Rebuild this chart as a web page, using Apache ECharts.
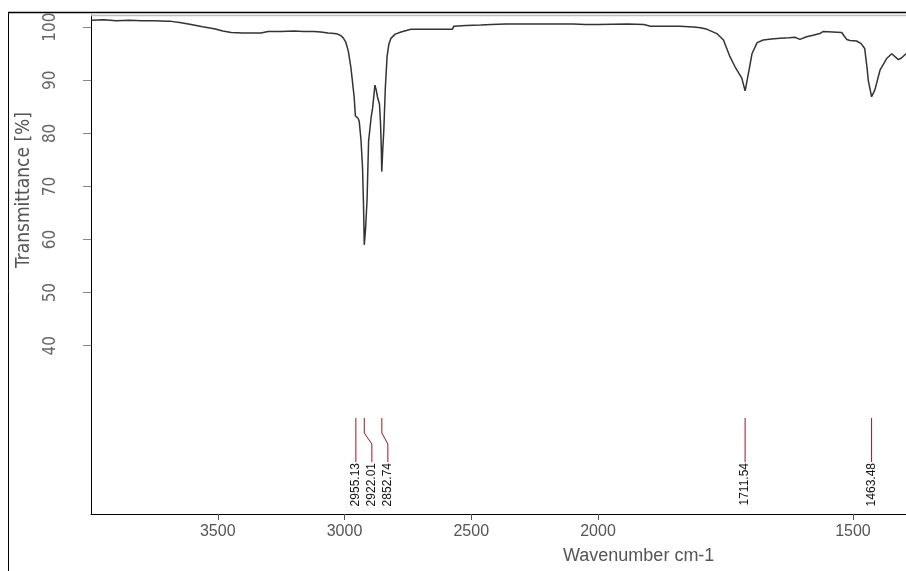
<!DOCTYPE html>
<html>
<head>
<meta charset="utf-8">
<script src="https://cdn.jsdelivr.net/npm/echarts@6/dist/echarts.min.js"></script>
<style>
html,body{margin:0;padding:0;background:#fff;}
#chart{width:906px;height:571px;}
</style>
</head>
<body>
<div id="chart"></div>
<script>
// Spectrum (wavenumber cm-1, transmittance %)
var wavenumbers = [4000,3950,3900,3850,3800,3750,3700,3684,3650,3605,3560,3514,3480,3447,3400,3360,3329,3302,3250,3200,3160,3120,3093,3065,3040,3027,3014,3005,2995,2985,2975,2968,2962,2957,2953,2950,2946,2942,2935,2929,2925,2922,2917,2911,2905,2895,2889,2880,2875,2870,2862,2858,2855,2853,2849,2845,2839,2832,2825,2817,2800,2777,2738,2700,2650,2600,2574,2569,2520,2463,2420,2364,2300,2250,2200,2150,2097,2050,2000,
  1942,1910,1897,1860,1839,1813,1799,1786,1767,1754,1741,1731,1718,1711.5,1705,1698,1688,1676,1660,1643,1625,1614,1604,1591,1578,1565,1558,1540,1522,1517,1512,1506,1503,1493,1484,1477,1472,1470,1463.5,1457,1447,1434,1424,1411,1405,1396];
var transmittance = [101.3,101.4,101.2,101.3,101.2,101.2,101.1,101.1,100.9,100.5,100.1,99.7,99.3,99.0,98.9,98.9,98.9,99.2,99.2,99.3,99.2,99.2,99.1,98.9,98.8,98.7,98.4,98.0,97.2,95.5,92.5,89.5,86.9,83.3,83.0,83.6,82.8,82.3,78.8,73.7,66.5,59.0,62.0,67.5,78.5,83.0,84.8,89.1,88.2,86.9,85.5,82.0,77.5,72.8,77.0,80.5,88.5,94.5,96.8,97.9,98.7,99.1,99.6,99.6,99.6,99.6,99.6,100.2,100.3,100.4,100.5,100.6,100.6,100.6,100.6,100.6,100.6,100.5,100.5,
  100.6,100.5,100.2,100.2,100.2,100.05,99.9,99.6,98.8,97.6,94.4,92.5,90.4,88.0,91.3,95.0,97.1,97.6,97.8,97.9,98.0,98.1,97.7,98.2,98.5,98.8,99.2,99.1,99.0,98.3,97.7,97.5,97.2,97.4,96.9,96.0,92.0,90.0,86.9,88.2,91.9,94.1,95.0,93.9,94.2,95.0];

// Peak annotations
var peaksHigh = [2955.13, 2922.01, 2852.74];
var peaksLow = [1711.54, 1463.48];

// Axes
var xTicksHigh = [3500, 3000, 2500];
var xTicksLow = [2000, 1500];
var yTicks = [40, 50, 60, 70, 80, 90, 100];
var yMin = 8.3, yMax = 102.3;
var xBreak = 2000, xStart = 4000, xEnd = 1396;

var seriesHigh = [], seriesLow = [];
for (var i = 0; i < wavenumbers.length; i++) {
  if (wavenumbers[i] >= xBreak) seriesHigh.push([wavenumbers[i], transmittance[i]]);
  if (wavenumbers[i] <= xBreak) seriesLow.push([wavenumbers[i], transmittance[i]]);
}

var chart = echarts.init(document.getElementById('chart'), null, {renderer: 'canvas'});

function peakSeries(gridIdx, peaks) {
  return {
    type: 'custom',
    xAxisIndex: gridIdx,
    yAxisIndex: gridIdx,
    clip: false,
    silent: true,
    data: peaks.map(function (p) { return [p, yMin]; }),
    renderItem: function (params, api) {
      var idx = params.dataIndex;
      var lx = null, px = null;
      for (var j = 0; j <= idx; j++) {
        px = api.coord([peaks[j], yMin])[0];
        lx = (j === 0) ? px : Math.max(px, lx + 16);
      }
      var bottom = api.coord([peaks[idx], yMin])[1];
      var top = bottom - 96;
      return {
        type: 'group',
        children: [
          {
            type: 'polyline',
            shape: {points: [[px, top], [px, top + 15], [lx, top + 26], [lx, bottom - 52]]},
            style: {stroke: '#9a1818', lineWidth: 1, fill: null}
          },
          {
            type: 'text',
            x: lx, y: bottom - 51,
            rotation: Math.PI / 2,
            style: {
              text: peaks[idx].toFixed(2),
              fill: '#111',
              font: '12px "Liberation Sans Narrow", "Liberation Sans", sans-serif',
              align: 'right',
              verticalAlign: 'middle'
            }
          }
        ]
      };
    }
  };
}

function plainNum(v) { return String(v); }

var labelFontY = {fontFamily: '"Liberation Sans Narrow", "DejaVu Sans Condensed", sans-serif', fontSize: 17, color: '#666'};
var labelFontX = {fontFamily: '"Liberation Sans", Arial, sans-serif', fontSize: 16, color: '#555'};

var option = {
  animation: false,
  backgroundColor: '#fff',
  grid: [
    {left: 91, top: 15, width: 507, height: 499},
    {left: 598, top: 15, width: 308, height: 499}
  ],
  xAxis: [
    {
      gridIndex: 0, type: 'value', inverse: true, min: xBreak, max: xStart,
      axisLine: {lineStyle: {color: '#000', width: 1}},
      axisTick: {customValues: xTicksHigh, length: 6, lineStyle: {color: '#555'}},
      axisLabel: Object.assign({customValues: xTicksHigh, margin: 10, formatter: plainNum}, labelFontX),
      splitLine: {show: false}
    },
    {
      gridIndex: 1, type: 'value', inverse: true, min: xEnd, max: xBreak,
      axisLine: {lineStyle: {color: '#000', width: 1}},
      axisTick: {customValues: xTicksLow, length: 6, lineStyle: {color: '#555'}},
      axisLabel: Object.assign({customValues: xTicksLow, margin: 10, formatter: plainNum}, labelFontX),
      splitLine: {show: false}
    }
  ],
  yAxis: [
    {
      gridIndex: 0, type: 'value', min: yMin, max: yMax,
      axisLine: {show: true, lineStyle: {color: '#000', width: 1}},
      axisTick: {customValues: yTicks, length: 8, lineStyle: {color: '#888'}},
      axisLabel: Object.assign({customValues: yTicks, rotate: 90, margin: 32, formatter: plainNum}, labelFontY),
      splitLine: {show: false}
    },
    {
      gridIndex: 1, type: 'value', min: yMin, max: yMax, show: false,
      splitLine: {show: false}
    }
  ],
  graphic: [
    {type: 'line', shape: {x1: 8, y1: 12.5, x2: 906, y2: 12.5}, style: {stroke: '#000', lineWidth: 1.5}, z: 10},
    {type: 'line', shape: {x1: 8.5, y1: 12, x2: 8.5, y2: 571}, style: {stroke: '#000', lineWidth: 1}, z: 10},
    {type: 'line', shape: {x1: 91, y1: 15.5, x2: 906, y2: 15.5}, style: {stroke: '#bbb', lineWidth: 1.5}, z: 10},
    {
      type: 'text', x: 24, y: 190, rotation: Math.PI / 2,
      style: {text: 'Transmittance [%]', fill: '#555', font: '19px "Liberation Sans Narrow", "DejaVu Sans Condensed", sans-serif', align: 'center', verticalAlign: 'middle'}
    },
    {
      type: 'text', x: 563, y: 556,
      style: {text: 'Wavenumber cm-1', fill: '#555', font: '18px "Liberation Sans", Arial, sans-serif', align: 'left', verticalAlign: 'middle'}
    }
  ],
  series: [
    {type: 'line', xAxisIndex: 0, yAxisIndex: 0, data: seriesHigh, showSymbol: false, lineStyle: {color: '#333', width: 1.5}, silent: true},
    {type: 'line', xAxisIndex: 1, yAxisIndex: 1, data: seriesLow, showSymbol: false, lineStyle: {color: '#333', width: 1.5}, silent: true},
    peakSeries(0, peaksHigh),
    peakSeries(1, peaksLow)
  ]
};
chart.setOption(option);
</script>
</body>
</html>
